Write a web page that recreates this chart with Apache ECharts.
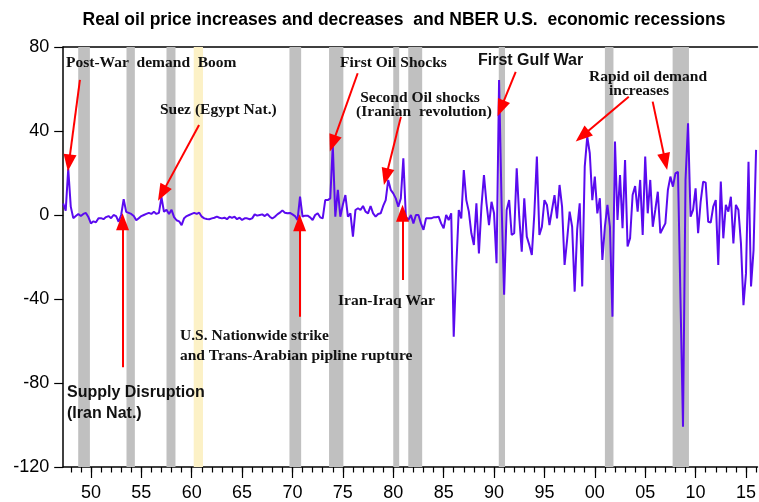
<!DOCTYPE html>
<html><head><meta charset="utf-8">
<script src="https://cdn.jsdelivr.net/npm/echarts@6/dist/echarts.min.js"></script>
<style>html,body{margin:0;padding:0;background:#fff}#c{width:759px;height:502px}</style>
</head><body><div id="c"></div>
<script>
// Quarterly data, first observation 1947 Q2
const startYear = 1947.25;
const endYear = 2016.14;
const oilChange = [
  5.5, 2, 22,
  4, -1.5, -0.5, 0.5,
  -0.5, 0.5, 1, -1,
  -4, -3, -3.5, -1.5,
  -1.5, -2, -1, -0.5,
  -1.5, 0, -0.5, -3.2,
  0, 7.5, 1.5, 1,
  0.5, -0.5, -2.5, -1.5,
  -0.5, 0, 0.5, 1,
  0.5, 1.5, 0.5, 1,
  8.5, 1.5, 2.5, 0.5,
  2.5, -1, -2.5, -3,
  -4.8, -1.5, -0.5, 0,
  0.5, 1, 0.5, 1.1,
  -0.8, -1.6, -1.9, -2,
  -1.6, -1.3, -0.8, -1.3,
  -1.6, -1.3, -2, -0.8,
  -1.4, -0.8, -2, -1.3,
  -2.4, -1.6, -1.6, -2,
  -1.6, 0.3, -0.3, 0,
  0.3, -0.5, 0.5, -0.8,
  -1.7, -0.8, 0.3, 1.1,
  2.2, 1.1, 0.8, 1,
  0.3, -0.5, -2.4, 8.7,
  -0.8, -0.3, -0.3, -1.1,
  -2.4, 0, 0.8, -1.1,
  -1.6, 7.1, 7.1, 7.9,
  33.3, -0.8, 12, -0.8,
  5, 9.5, -0.8, 0.8,
  -10.3, 2.4, 3.2, 2.4,
  4.3, 1.6, 0.8, 4.3,
  0.8, -0.8, 0.5, 0.8,
  4.3, 7.1, 16.7, 12,
  10.3, 7.9, 4, 7.9,
  27, -0.8, -2.4, 0,
  -4, 0, 0, -4,
  -7.1, -1.6, -1.6, -1.6,
  -1.1, -1.1, -0.8, -4,
  -6.3, 0, -2.4, 0.8,
  -58, -25, 2.4, -1.6,
  21.4, 7.1, 1.6, -8.7,
  -14.3, 5.6, -18.3, 4,
  19, 5.6, -4.8, 6.3,
  0.8, -23, 64.3, 5,
  -38, 2.4, 7.1, -9.5,
  -8.7, 22.2, -0.8, -17.5,
  7.9, -10.3, -14.3, -19,
  0.8, 27.8, -9.5, -5.6,
  7.1, 4.8, -4.8, 2.4,
  9.5, -1.6, 14.3, 4,
  -23.8, -11.9, 1.6, -5.6,
  -36.5, -7, 5.6, -34,
  23, 37.3, 29.4, 7.1,
  18.3, 0.8, 8, -21.4,
  -5.6, 4.8, -5.6, -48.4,
  35, -2.4, 19, -6.3,
  26.2, -15, -11.1, 9.5,
  13.8, 1.6, 16.7, -9.5,
  27.8, 0.8, 16.7, -5.6,
  2.4, 11.1, -8.7, -6.3,
  -4, 11.9, 18.3, 13.5,
  19.8, 20.6, -40, -100.8,
  16.7, 43.7, -0.8, 2.4,
  12.7, -8.7, 6.3, 15.9,
  15.4, -3.2, -3.6, 4,
  7.1, -23.8, 15.9, -11.1,
  4.8, 1.6, 8.7, -13.5,
  4.8, 2.4, -13.5, -42.9,
  -27.8, 25.4, -34, -16.7,
  31
];
// NBER recessions (gray) and the highlighted 1960-61 one (yellow)
const recessions = [
  [1948.74, 1949.90], [1953.53, 1954.36], [1957.50, 1958.39],
  [1969.70, 1970.86], [1973.63, 1975.05], [1980.00, 1980.59],
  [1981.49, 1982.87], [1990.47, 1991.09], [2001.00, 2001.85],
  [2007.72, 2009.34]
];
const highlighted = [[1960.20, 1961.12]];
const majorTicks = [1950, 1955, 1960, 1965, 1970, 1975, 1980, 1985, 1990, 1995, 2000, 2005, 2010, 2015];
const minorTicks = [1948,1949,1950,1951,1952,1953,1954,1955,1956,1957,1958,1959,1960,1961,1962,1963,1964,1965,1966,1967,1968,1969,1970,1971,1972,1973,1974,1975,1976,1977,1978,1979,1980,1981,1982,1983,1984,1985,1986,1987,1988,1989,1990,1991,1992,1993,1994,1995,1996,1997,1998,1999,2000,2001,2002,2003,2004,2005,2006,2007,2008,2009,2010,2011,2012,2013,2014,2015,2016];
// annotation arrows [fromYear, fromValue, toYear, toValue]
const arrows = [
  [1948.91, 64.3, 1947.82, 24.8],
  [1960.73, 42.9, 1957.06, 10.3],
  [1953.14, -72.5, 1953.14, -3.2],
  [1970.71, -48.4, 1970.71, -3.7],
  [1976.47, 67.5, 1973.99, 34.1],
  [1980.76, 46.8, 1979.28, 18.2],
  [1980.92, -31, 1980.92, 0.8],
  [1992.15, 68.2, 1990.67, 50.8],
  [2003.37, 56.3, 1998.75, 37.6],
  [2005.74, 54, 2007.0, 25.4]
];
const titleText = 'Real oil price increases and decreases  and NBER U.S.  economic recessions';

const SERIF = 'bold 15.5px "Liberation Serif", "Times New Roman", serif';
const SANS = 'bold 16px "Liberation Sans", Arial, sans-serif';
const notes = [
  {t:'Post-War  demand  Boom', x:66, y:63, f:SERIF, a:'left'},
  {t:'Suez (Egypt Nat.)', x:160, y:110, f:SERIF, a:'left'},
  {t:'First Oil Shocks', x:340, y:63, f:SERIF, a:'left'},
  {t:'Second Oil shocks', x:420, y:98, f:SERIF, a:'center'},
  {t:'(Iranian  revolution)', x:424, y:112, f:SERIF, a:'center'},
  {t:'First Gulf War', x:478, y:61, f:SANS, a:'left'},
  {t:'Rapid oil demand', x:648, y:77, f:SERIF, a:'center'},
  {t:'increases', x:639, y:91, f:SERIF, a:'center'},
  {t:'Iran-Iraq War', x:338, y:301, f:SERIF, a:'left'},
  {t:'U.S. Nationwide strike', x:180, y:336, f:SERIF, a:'left'},
  {t:'and Trans-Arabian pipline rupture', x:180, y:356, f:SERIF, a:'left'},
  {t:'Supply Disruption', x:67, y:393, f:SANS, a:'left'},
  {t:'(Iran Nat.)', x:67, y:414, f:SANS, a:'left'}
];

const chart = echarts.init(document.getElementById('c'), null, {renderer:'canvas'});
const lineData = oilChange.map((v, i) => [startYear + 0.25 * i, v]);
const bandData = recessions.map(r => [{xAxis: r[0], itemStyle:{color:'#c0c0c0'}}, {xAxis: r[1]}])
  .concat(highlighted.map(r => [{xAxis: r[0], itemStyle:{color:'#fcf1c6'}}, {xAxis: r[1]}]));
const arrowData = arrows.map(a => [{coord:[a[0], a[1]]}, {coord:[a[2], a[3]]}]);
const fmt = v => { const m = Math.round(v) % 100; return (m < 10 ? '0' : '') + m; };
const axisFont = {fontSize:18, color:'#000', fontFamily:'"Liberation Sans", Arial, sans-serif'};

chart.setOption({
  animation: false,
  backgroundColor: '#fff',
  grid: {left: 63.2, right: 0, top: 47, bottom: 35, containLabel: false},
  xAxis: [
    {type:'value', min:startYear, max:endYear, position:'bottom',
     axisLine:{show:true, onZero:false, lineStyle:{color:'#000', width:1.5}},
     axisTick:{show:true, customValues: majorTicks, length:11, lineStyle:{color:'#000', width:1.2}},
     axisLabel:Object.assign({show:true, customValues: majorTicks, formatter: fmt, margin:17}, axisFont),
     splitLine:{show:false}},
    {type:'value', min:startYear, max:endYear, position:'bottom',
     axisLine:{show:false, onZero:false},
     axisTick:{show:true, customValues: minorTicks, length:5.5, lineStyle:{color:'#000', width:1.2}},
     axisLabel:{show:false}, splitLine:{show:false}},
    {type:'value', min:startYear, max:endYear, position:'top',
     axisLine:{show:true, onZero:false, lineStyle:{color:'#000', width:1.5}},
     axisTick:{show:false}, axisLabel:{show:false}, splitLine:{show:false}}
  ],
  yAxis: {type:'value', min:-120, max:80, interval:40,
    axisLine:{show:true, onZero:false, lineStyle:{color:'#000', width:1.5}},
    axisTick:{show:true, length:9, lineStyle:{color:'#000', width:1.2}},
    axisLabel:Object.assign({margin:14}, axisFont),
    splitLine:{show:false}},
  series: [
    {type:'line', data:[], z:1, silent:true,
     markArea:{silent:true, data: bandData}},
    {type:'line', data: lineData, z:3, showSymbol:false, symbol:'none', silent:true,
     lineStyle:{color:'#5a0aef', width:2}},
    {type:'line', data:[], z:5, silent:true,
     markLine:{silent:true, symbol:['none','triangle'], symbolSize:[13,17],
       label:{show:false}, lineStyle:{color:'#ff0000', width:2, type:'solid'},
       emphasis:{disabled:true}, data: arrowData}}
  ],
  graphic: [
    {type:'text', x:404, y:20, style:{text:titleText, font:'bold 17.5px "Liberation Sans", Arial, sans-serif', fill:'#000', textAlign:'center', textVerticalAlign:'middle'}}
  ].concat(notes.map(n => ({type:'text', x:n.x, y:n.y, z:20,
     style:{text:n.t, font:n.f, fill:'#111', textAlign:n.a, textVerticalAlign:'middle'}})))
});
</script></body></html>
